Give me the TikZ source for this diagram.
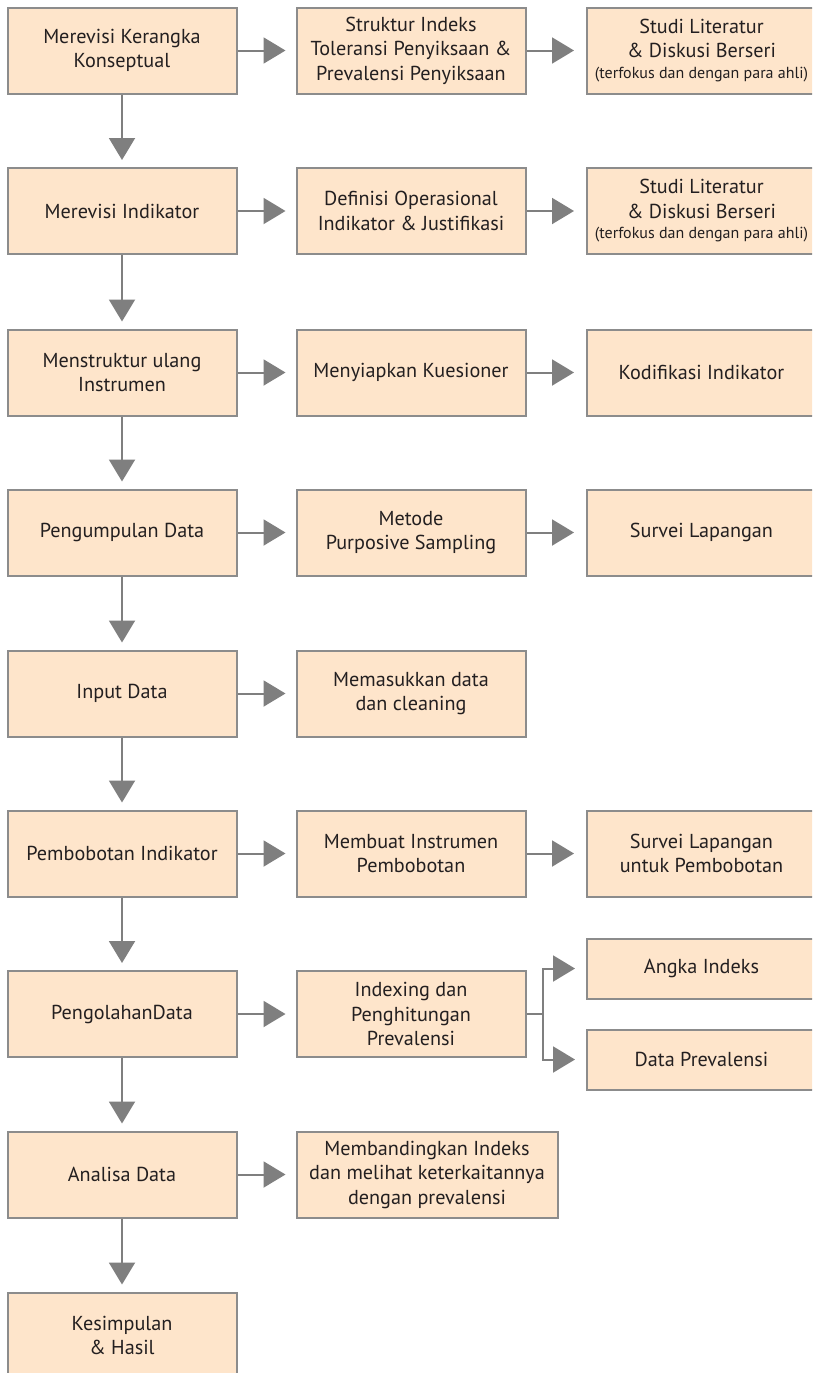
\documentclass[tikz,border=0pt]{standalone}
\usepackage{fontspec}
\setmainfont{PT Sans}
\usetikzlibrary{arrows.meta}
\definecolor{boxfill}{HTML}{FEE5CB}
\definecolor{boxline}{HTML}{8C8C8C}
\definecolor{arrgray}{HTML}{7F7F7F}
\definecolor{txt}{HTML}{231F20}
\newcommand\smallnotefont{\fontsize{16}{20}\selectfont}
\begin{document}
\begin{tikzpicture}[x=1pt,y=-1pt,
  box/.style={draw=boxline, line width=2pt, fill=boxfill, minimum width=229pt, minimum height=86pt,
    inner sep=0pt, align=center, text=txt, font=\fontsize{20.2}{24.5}\selectfont},
  smallbox/.style={box, minimum height=60pt},
  arr/.style={draw=arrgray, line width=2pt, -{Triangle[length=22pt,width=26pt]}},
  down/.style={arr, shorten >=7pt},
  rightA/.style={arr, shorten >=10pt},
  rightB/.style={arr, shorten >=12pt}
]
\useasboundingbox (0,0) rectangle (812,1373);
\clip (0,0) rectangle (812,1373);
\fill[white] (0,0) rectangle (812,1373);

% left column
\node[box] (l1) at (122,50.5) {Merevisi Kerangka\\Konseptual};
\node[box] (l2) at (122,211) {Merevisi Indikator};
\node[box] (l3) at (122,372.5) {Menstruktur ulang\\Instrumen};
\node[box] (l4) at (122,532.5) {Pengumpulan Data};
\node[box] (l5) at (122,693.5) {Input Data};
\node[box] (l6) at (122,853.5) {Pembobotan Indikator};
\node[box] (l7) at (122,1014) {PengolahanData};
\node[box] (l8) at (122,1174.5) {Analisa Data};
\node[box] (l9) at (122,1335.5) {Kesimpulan\\\& Hasil};

% middle column
\node[box] (m1) at (411,50.5) {Struktur Indeks\\Toleransi Penyiksaan \&\\Prevalensi Penyiksaan};
\node[box] (m2) at (411,211) {Definisi Operasional\\Indikator \& Justifikasi};
\node[box] (m3) at (411,372.5) {Menyiapkan Kuesioner};
\node[box] (m4) at (411,532.5) {Metode\\Purposive Sampling};
\node[box] (m5) at (411,693.5) {Memasukkan data\\dan cleaning};
\node[box] (m6) at (411,853.5) {Membuat Instrumen\\Pembobotan};
\node[box] (m7) at (411,1014) {Indexing dan\\Penghitungan\\Prevalensi};
\node[box, minimum width=261pt] (m8) at (427,1174.5) {Membandingkan Indeks\\dan melihat keterkaitannya\\dengan prevalensi};

% right column
\node[box] (r1) at (701.5,50.5) {Studi Literatur\\\& Diskusi Berseri\\[-4pt]{\smallnotefont (terfokus dan dengan para ahli)}};
\node[box] (r2) at (701.5,211) {Studi Literatur\\\& Diskusi Berseri\\[-4pt]{\smallnotefont (terfokus dan dengan para ahli)}};
\node[box] (r3) at (701.5,372.5) {Kodifikasi Indikator};
\node[box] (r4) at (701.5,532.5) {Survei Lapangan};
\node[box] (r6) at (701.5,853.5) {Survei Lapangan\\untuk Pembobotan};
\node[smallbox] (r7a) at (701.5,968.5) {Angka Indeks};
\node[smallbox] (r7b) at (701.5,1059.5) {Data Prevalensi};

% vertical arrows
\foreach \a/\b in {l1/l2,l2/l3,l3/l4,l4/l5,l5/l6,l6/l7,l7/l8,l8/l9}
  \draw[down] (\a) -- (\b);

% horizontal arrows
\foreach \a/\b in {l1/m1,l2/m2,l3/m3,l4/m4,l5/m5,l6/m6,l7/m7,l8/m8}
  \draw[rightA] (\a) -- (\b);
\foreach \a/\b in {m1/r1,m2/r2,m3/r3,m4/r4,m6/r6}
  \draw[rightB] (\a) -- (\b);

% branch
\draw[arr, shorten >=11pt] (m7.east) -- ++(16,0) coordinate (br) |- (r7a.west);
\draw[arr, shorten >=11pt] (br) |- (r7b.west);
\end{tikzpicture}
\end{document}
